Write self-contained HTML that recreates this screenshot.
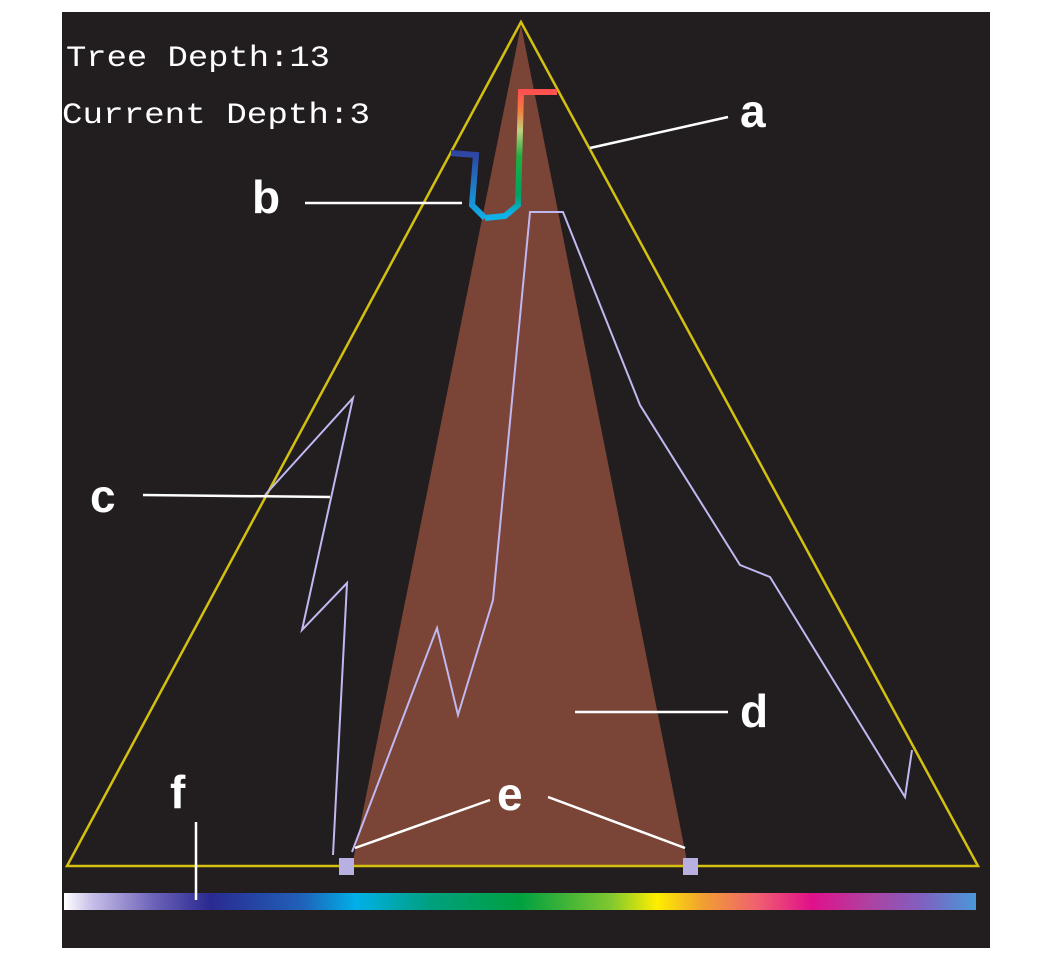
<!DOCTYPE html>
<html><head><meta charset="utf-8"><style>
body{margin:0;background:#fff;width:1062px;height:958px;overflow:hidden}
svg{display:block}
text{font-family:"Liberation Sans",sans-serif}
</style></head><body>
<svg width="1062" height="958" viewBox="0 0 1062 958">
<defs>
<linearGradient id="cb" x1="0" x2="1" y1="0" y2="0">
<stop offset="0" stop-color="#ffffff"/><stop offset="0.03" stop-color="#c8c0e8"/>
<stop offset="0.1" stop-color="#6a60b8"/><stop offset="0.16" stop-color="#2a2a90"/>
<stop offset="0.26" stop-color="#2060b8"/><stop offset="0.32" stop-color="#00b0e8"/>
<stop offset="0.4" stop-color="#00a080"/><stop offset="0.5" stop-color="#00a040"/>
<stop offset="0.6" stop-color="#80c830"/><stop offset="0.65" stop-color="#ffee00"/>
<stop offset="0.7" stop-color="#f0a030"/><stop offset="0.76" stop-color="#f06070"/>
<stop offset="0.82" stop-color="#e0108a"/><stop offset="0.88" stop-color="#b040a0"/>
<stop offset="0.94" stop-color="#8060c0"/><stop offset="1" stop-color="#4a98d8"/>
</linearGradient>
<linearGradient id="bg" gradientUnits="userSpaceOnUse" x1="0" y1="92" x2="0" y2="220">
<stop offset="0" stop-color="#ff5050"/><stop offset="0.15" stop-color="#f08040"/>
<stop offset="0.3" stop-color="#c0d080"/><stop offset="0.5" stop-color="#20b040"/>
<stop offset="0.8" stop-color="#00a060"/><stop offset="0.95" stop-color="#10b0e8"/>
</linearGradient>
<linearGradient id="bg2" gradientUnits="userSpaceOnUse" x1="0" y1="150" x2="0" y2="220">
<stop offset="0" stop-color="#3040a0"/><stop offset="1" stop-color="#10b0e8"/>
</linearGradient>
</defs>
<rect x="62" y="12" width="928" height="936" fill="#221e1f"/>
<text x="66" y="66" fill="#fff" font-size="30" textLength="264" lengthAdjust="spacingAndGlyphs" style="font-family:'Liberation Mono',monospace">Tree Depth:13</text>
<text x="62" y="123" fill="#fff" font-size="30" textLength="308" lengthAdjust="spacingAndGlyphs" style="font-family:'Liberation Mono',monospace">Current Depth:3</text>
<polygon points="521,25 352,866 688,866" fill="#7a4436"/>
<polygon points="521,22 67,866 978,866" fill="none" stroke="#d4c010" stroke-width="2.5"/>
<polyline points="333,855 347,583 302,630 353,398 265,495" fill="none" stroke="#c0b8f0" stroke-width="2"/>
<polyline points="352,852 437,628 458,715 493,600 530,212 563,212 640,405 740,565 770,577 905,797 912,750" fill="none" stroke="#c0b8f0" stroke-width="2"/>
<polyline points="557,92 521,92 518,205 505,216 485,218" fill="none" stroke="url(#bg)" stroke-width="6"/>
<polyline points="485,218 472,205 476,155 451,153" fill="none" stroke="url(#bg2)" stroke-width="6"/>
<rect x="339" y="858" width="15" height="17" fill="#b8b0e0"/>
<rect x="683" y="858" width="15" height="17" fill="#b8b0e0"/>
<rect x="64" y="893" width="912" height="17" fill="url(#cb)"/>
<g stroke="#fff" stroke-width="2.5" fill="none">
<line x1="590" y1="148" x2="728" y2="117"/>
<line x1="305" y1="203" x2="462" y2="203"/>
<line x1="143" y1="495" x2="330" y2="497"/>
<line x1="575" y1="712" x2="728" y2="712"/>
<line x1="355" y1="848" x2="490" y2="800"/>
<line x1="548" y1="797" x2="685" y2="848"/>
<line x1="196" y1="822" x2="196" y2="900"/>
</g>
<g fill="#fff" font-size="46" font-weight="bold">
<text x="740" y="127">a</text>
<text x="252" y="213">b</text>
<text x="90" y="512">c</text>
<text x="740" y="727">d</text>
<text x="497" y="810">e</text>
<text x="170" y="808">f</text>
</g>
</svg>
</body></html>
